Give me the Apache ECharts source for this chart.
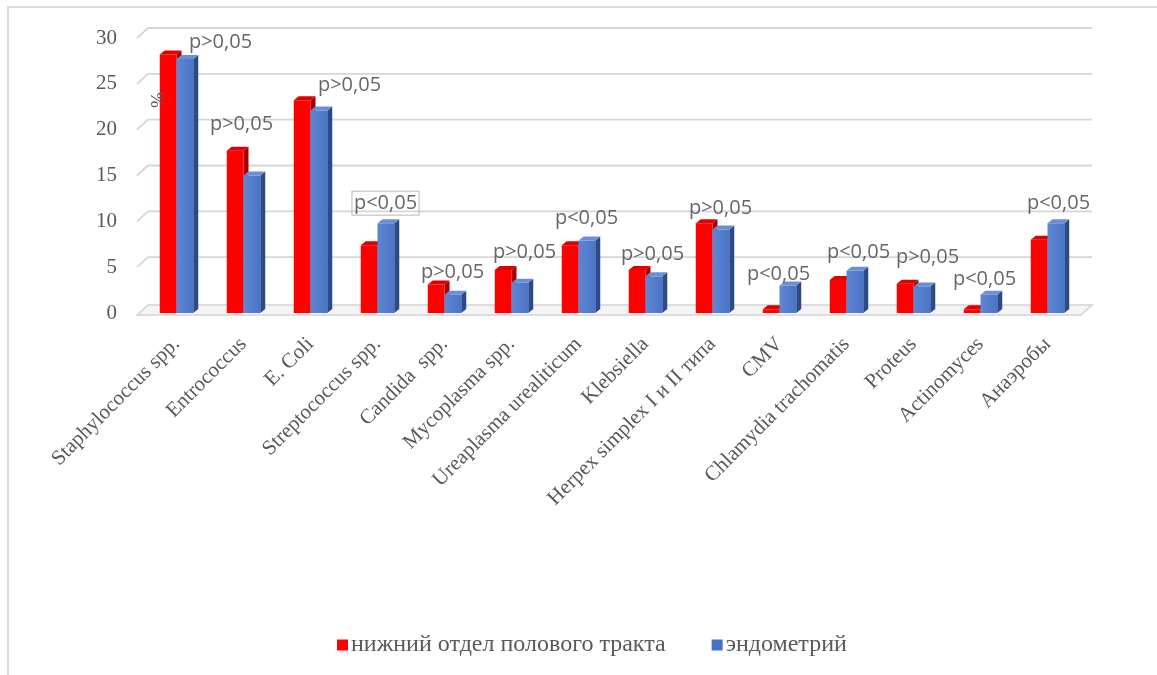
<!DOCTYPE html>
<html>
<head>
<meta charset="utf-8">
<script src="https://cdn.jsdelivr.net/npm/echarts@6/dist/echarts.min.js"></script>
<style>
  html, body { margin: 0; padding: 0; background: #fff; }
  #chart { width: 1157px; height: 675px; }
</style>
</head>
<body>
<div id="chart"></div>
<script>
// Microflora of the lower genital tract vs endometrium, %
const categories = [
  'Staphylococcus spp.', 'Entrococcus', 'E. Coli', 'Streptococcus spp.',
  'Candida  spp.', 'Mycoplasma spp.', 'Ureaplasma urealiticum', 'Klebsiella',
  'Herpex simplex I и II типа', 'CMV', 'Chlamydia trachomatis', 'Proteus',
  'Actinomyces', 'Анаэробы'
];
const lowerTract = [28.2, 17.7, 23.2, 7.4, 3.1, 4.7, 7.4, 4.7, 9.8, 0.4, 3.6, 3.2, 0.4, 8.0];
const endometrium = [27.7, 15.0, 22.1, 9.8, 2.0, 3.3, 7.9, 4.0, 9.1, 3.0, 4.6, 2.9, 2.0, 9.8];
const pValues = [
  'p>0,05', 'p>0,05', 'p>0,05', 'p<0,05', 'p>0,05', 'p>0,05', 'p<0,05',
  'p>0,05', 'p>0,05', 'p<0,05', 'p<0,05', 'p>0,05', 'p<0,05', 'p<0,05'
];
const yTicks = [0, 5, 10, 15, 20, 25, 30];
const seriesNames = ['нижний отдел полового тракта', 'эндометрий'];

// label placement relative to the taller bar of each pair
const pLabelOffsets = [
  [44, -12], [-2, -26], [39, -15], [8, -20], [8, -12], [13, -18], [8, -22],
  [7, -16], [8, -15], [-1, -11], [12, -19], [14, -26], [4, -15], [11, -20]
];

const DEPTH_X = 5, DEPTH_Y = -4;
const WALL_X = 11, WALL_Y = -10;

const palettes = [
  { front: '#ff0000', top: '#e00000', side: '#a80000' },
  {
    front: new echarts.graphic.LinearGradient(0, 0, 1, 0, [
      { offset: 0, color: '#5f86d2' }, { offset: 1, color: '#4a74c6' }
    ]),
    top: '#6b8fd6', side: '#2c4a86'
  }
];

function barRenderer(seriesIdx) {
  return function (params, api) {
    const idx = api.value(0);
    const val = api.value(1);
    const band = api.size([1, 0])[0];
    const w = band * 0.25;
    const base = api.coord([idx, 0]);
    const top = api.coord([idx, val]);
    const c = base[0];
    const x0 = seriesIdx === 0 ? c - w : c;
    const x1 = x0 + w;
    const yT = top[1], yB = base[1];
    const p = palettes[seriesIdx];
    return {
      type: 'group',
      children: [
        { type: 'polygon', shape: { points: [[x1, yT], [x1 + DEPTH_X, yT + DEPTH_Y], [x1 + DEPTH_X, yB + DEPTH_Y], [x1, yB]] }, style: { fill: p.side } },
        { type: 'rect', shape: { x: x0, y: yT, width: w, height: yB - yT }, style: { fill: p.front } },
        { type: 'polygon', shape: { points: [[x0, yT], [x1, yT], [x1 + DEPTH_X, yT + DEPTH_Y], [x0 + DEPTH_X, yT + DEPTH_Y]] }, style: { fill: p.top } }
      ]
    };
  };
}

function wallRenderer(params, api) {
  const v = api.value(1);
  const cs = params.coordSys;
  const y = api.coord([0, v])[1];
  const xl = cs.x - 6;
  const xr = cs.x + cs.width;
  const children = [];
  if (v === 0) {
    children.push({
      type: 'polygon',
      shape: { points: [[xl, y + 2], [xr, y + 2], [xr + WALL_X, y + 2 + WALL_Y], [xl + WALL_X, y + 2 + WALL_Y]] },
      style: { fill: '#f4f4f4', stroke: '#d4d4d4', lineWidth: 1.5 }
    });
  } else {
    children.push({
      type: 'polyline',
      shape: { points: [[xl, y], [xl + WALL_X, y + WALL_Y], [xr + WALL_X, y + WALL_Y]] },
      style: { stroke: '#d6d6d6', lineWidth: 1.8, fill: null }
    });
  }
  return { type: 'group', children: children };
}

const chart = echarts.init(document.getElementById('chart'), null, { renderer: 'canvas' });

const option = {
  animation: false,
  backgroundColor: '#ffffff',
  graphic: [
    { type: 'rect', shape: { x: 8, y: 7, width: 1300, height: 800 }, style: { fill: null, stroke: '#dcdcdc', lineWidth: 2 }, z: -10 },
    { type: 'text', x: 150, y: 108, rotation: Math.PI / 2, style: { text: '%', font: '19px "Liberation Serif"', fill: '#595959' }, z: 10 }
  ],
  legend: {
    left: 332,
    top: 628,
    itemWidth: 11,
    itemHeight: 11,
    itemGap: 46,
    icon: 'rect',
    data: seriesNames,
    textStyle: { fontFamily: 'Liberation Serif', fontSize: 24, color: '#595959', padding: [6, 0, 0, -2] }
  },
  grid: { left: 143, right: 76, top: 38, bottom: 362, containLabel: false },
  xAxis: {
    type: 'category',
    data: categories,
    axisLine: { show: false },
    axisTick: { show: false },
    splitLine: { show: false },
    axisLabel: {
      interval: 0,
      rotate: 45,
      margin: 28,
      fontFamily: 'Liberation Serif',
      fontSize: 21,
      color: '#595959'
    }
  },
  yAxis: {
    type: 'value',
    min: 0,
    max: 30,
    interval: 5,
    axisLine: { show: false },
    axisTick: { show: false },
    splitLine: { show: false },
    axisLabel: {
      margin: 26,
      fontFamily: 'Liberation Serif',
      fontSize: 21,
      color: '#595959'
    }
  },
  series: [
    {
      type: 'custom',
      name: 'wall',
      silent: true,
      clip: false,
      z: 1,
      renderItem: wallRenderer,
      data: yTicks.map(v => [0, v])
    },
    {
      type: 'custom',
      name: seriesNames[0],
      clip: false,
      z: 2,
      itemStyle: { color: '#ff0000' },
      renderItem: barRenderer(0),
      encode: { x: 0, y: 1 },
      data: lowerTract.map((v, i) => [i, v])
    },
    {
      type: 'custom',
      name: seriesNames[1],
      clip: false,
      z: 3,
      itemStyle: { color: '#4472c4' },
      renderItem: barRenderer(1),
      encode: { x: 0, y: 1 },
      data: endometrium.map((v, i) => [i, v])
    },
    {
      type: 'scatter',
      name: 'p',
      silent: true,
      symbolSize: 0,
      z: 5,
      data: pValues.map((p, i) => ({
        value: [i, Math.max(lowerTract[i], endometrium[i])],
        label: Object.assign({
          show: true,
          position: 'inside',
          offset: pLabelOffsets[i],
          formatter: p,
          fontFamily: 'Open Sans',
          fontSize: 20,
          color: '#404040'
        }, i === 3 ? { borderColor: '#a6a6a6', borderWidth: 1, padding: [3, 2, 1, 2] } : {})
      }))
    }
  ]
};

chart.setOption(option);
</script>
</body>
</html>
